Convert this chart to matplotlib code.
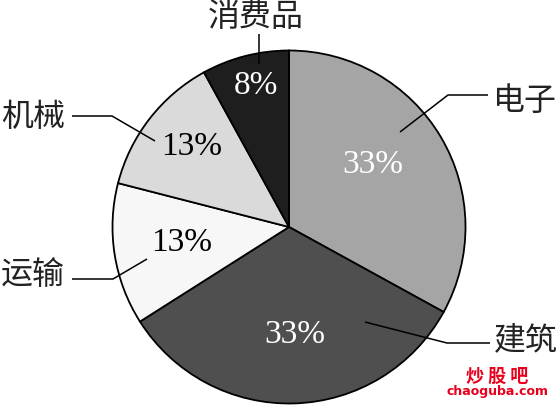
import numpy as np
import matplotlib
matplotlib.use('Agg')
import matplotlib.pyplot as plt

## data
categories = ['电子', '建筑', '运输', '机械', '消费品']
shares = [33, 33, 13, 13, 8]
pct_labels = ['33%', '33%', '13%', '13%', '8%']
colors = ['#a5a5a5', '#4f4f4f', '#f7f7f7', '#dadada', '#1e1e1e']
pct_colors = ['white', 'white', 'black', 'black', 'white']

W, H = 558, 406


def fy(y):
    # picture rows go down, axes y goes up
    return H - y


fig = plt.figure(figsize=(W / 100., H / 100.), dpi=100)
ax = fig.add_axes([0, 0, 1, 1])

wedges, _ = ax.pie(shares, colors=colors, startangle=90, counterclock=False,
                   center=(289, fy(228)), radius=176.5, frame=True,
                   wedgeprops={'edgecolor': 'black', 'linewidth': 1.3})
ax.set_xlim(0, W)
ax.set_ylim(0, H)
ax.set_aspect('equal')
ax.axis('off')

# percentage text inside the slices
pct_pos = [(373, 165), (295, 335), (182, 243), (192, 147), (256, 86)]
for (x, y), txt, c in zip(pct_pos, pct_labels, pct_colors):
    ax.text(x, fy(y), txt, color=c, fontsize=24, family='Liberation Serif',
            ha='center', va='center')

# leader lines (picture coords)
leaders = [
    [(400, 133), (448, 96), (488, 96)],          # 电子
    [(365, 323), (447, 344), (490, 344)],        # 建筑
    [(147, 260), (113, 280), (72, 280)],         # 运输
    [(155, 142), (112, 117), (72, 117)],         # 机械
    [(259, 65), (259, 35)],                      # 消费品
]
for pts in leaders:
    xs = [p[0] for p in pts]
    ys = [fy(p[1]) for p in pts]
    ax.plot(xs, ys, color='black', lw=1.1, solid_capstyle='butt')

cat_pos = [(525, 101), (526, 340), (33, 275), (33, 117), (256, 17)]
for (x, y), name in zip(cat_pos, categories):
    ax.text(x, fy(y), name, fontsize=23, family=['Noto Sans CJK SC', 'DejaVu Sans'],
            color='#222222', ha='center', va='center')

# watermark
ax.text(497, fy(376), '炒 股 吧', fontsize=13, fontweight='bold', color='#e8001c',
        family=['Noto Sans CJK SC', 'DejaVu Sans'], ha='center', va='center')
ax.text(497, fy(392), 'chaoguba.com', fontsize=9, fontweight='bold', color='#e8001c',
        family='DejaVu Sans', ha='center', va='center')

fig.savefig('out.png', dpi=100)
